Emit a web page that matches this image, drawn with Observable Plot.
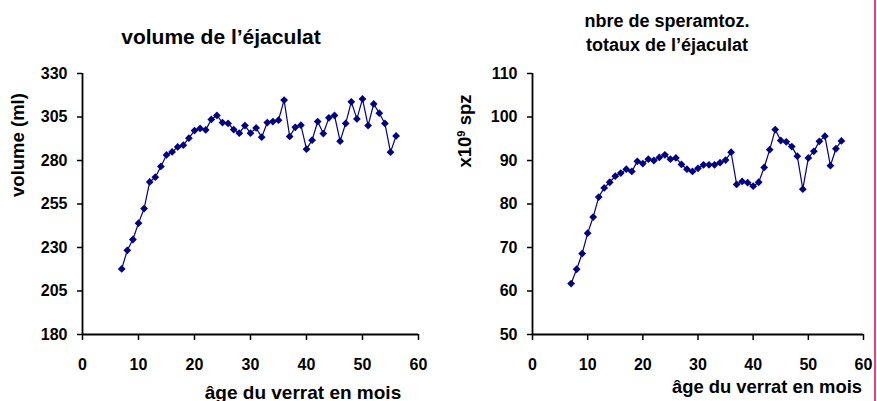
<!DOCTYPE html>
<html>
<head>
<meta charset="utf-8">
<script src="https://cdn.jsdelivr.net/npm/d3@7"></script>
<script src="https://cdn.jsdelivr.net/npm/@observablehq/plot@0.6"></script>
<style>
  html, body { margin: 0; padding: 0; background: #fff; }
  #wrap { position: relative; width: 877px; height: 401px; overflow: hidden; background: #fff;
          font-family: "Liberation Sans", Arial, sans-serif; font-weight: bold; color: #000; }
  #wrap svg text { font-family: "Liberation Sans", Arial, sans-serif; font-weight: bold; font-size: 16px; fill: #000; }
  .lbl { position: absolute; white-space: nowrap; line-height: 1; transform: translate(-50%, -50%); }
  .rot { transform: translate(-50%, -50%) rotate(-90deg); }
  .lbl sup { font-size: 0.6em; vertical-align: 0.55em; line-height: 0; }
  #edge { position: absolute; left: 874px; top: 0; width: 2px; height: 401px; background: #f2436c; }
</style>
</head>
<body>
<div id="wrap"></div>
<script>
// months (x values)
const months = [7,8,9,10,11,12,13,14,15,16,17,18,19,20,21,22,23,24,25,26,27,28,29,30,31,32,33,34,35,36,37,38,39,40,41,42,43,44,45,46,47,48,49,50,51,52,53,54,55,56];
// volume de l'éjaculat (ml)
const volume = [217.7,228.4,234.6,244.0,252.4,267.7,270.4,276.6,283.2,284.9,
                287.8,288.8,292.8,297.2,298.4,297.6,303.6,305.9,301.8,301.3,
                297.8,295.7,300.1,295.7,298.7,293.4,301.8,302.4,303.2,314.7,
                293.8,299.1,300.3,286.5,291.7,302.4,295.5,304.5,305.9,291.1,
                301.3,313.7,303.9,315.4,300.1,312.5,307.2,301.3,284.8,294.1];
// nbre de spermatozoïdes totaux (x10^9)
const spz = [61.7,65.0,68.6,73.3,77.0,81.6,83.7,85.0,86.4,87.1,
             88.0,87.5,89.8,89.3,90.3,90.0,90.7,91.3,90.3,90.6,
             89.1,88.0,87.5,88.2,89.0,89.0,89.0,89.5,90.1,91.9,
             84.5,85.2,84.9,84.1,85.0,88.4,92.5,97.1,94.6,94.3,
             93.2,91.0,83.4,90.6,92.1,94.4,95.6,88.8,92.7,94.5];
const xTicks = [0,10,20,30,40,50,60];
const yTicksVolume = [180,205,230,255,280,305,330];
const yTicksSpz = [50,60,70,80,90,100,110];

const navy = "#000080";
const font = '"Liberation Sans", Arial, sans-serif';

function chart(values, yDomain, yTicks, opts) {
  const data = months.map((m, i) => ({x: m, y: values[i]}));
  return Plot.plot({
    width: opts.width, height: 401,
    marginLeft: opts.ml, marginRight: opts.mr, marginTop: 73, marginBottom: 67,
    x: {domain: [0, 60]},
    y: {domain: yDomain},
    style: {fontFamily: font, fontSize: "16px", fontWeight: "bold", color: "#000", background: "transparent", overflow: "visible"},
    marks: [
      Plot.axisY({ticks: yTicks, tickSize: 5, tickPadding: 10, label: null, strokeWidth: 1.5}),
      Plot.axisX({ticks: xTicks, tickSize: 6, tickPadding: 18, label: null, strokeWidth: 1.5}),
      Plot.ruleX([0], {stroke: "#000", strokeWidth: 1.8}),
      Plot.ruleY([yDomain[0]], {stroke: "#000", strokeWidth: 1.8}),
      Plot.line(data, {x: "x", y: "y", stroke: navy, strokeWidth: 1.2}),
      Plot.dot(data, {x: "x", y: "y", symbol: "diamond2", r: 3.5, fill: navy, stroke: "none"})
    ]
  });
}

const wrap = document.getElementById("wrap");

const left = chart(volume, [180, 330], yTicksVolume, {width: 440, ml: 82, mr: 22});
left.style.position = "absolute"; left.style.left = "0px"; left.style.top = "0px";
wrap.appendChild(left);

const right = chart(spz, [50, 110], yTicksSpz, {width: 437, ml: 92, mr: 14});
right.style.position = "absolute"; right.style.left = "440px"; right.style.top = "0px";
wrap.appendChild(right);

function label(html, x, y, size, rotated) {
  const d = document.createElement("div");
  d.className = "lbl" + (rotated ? " rot" : "");
  d.style.left = x + "px"; d.style.top = y + "px"; d.style.fontSize = size + "px";
  d.innerHTML = html;
  wrap.appendChild(d);
}
label("volume de l’éjaculat", 221, 36, 21);
label("nbre de speramtoz.", 667, 21, 18);
label("totaux de l’éjaculat", 667, 45, 18);
label("âge du verrat en mois", 303, 392, 19);
label("âge du verrat en mois", 767, 387, 18.4);
label("volume (ml)", 18, 145, 18.5, true);
label("x10<sup>9</sup> spz", 465, 131, 18.5, true);

const edge = document.createElement("div");
edge.id = "edge";
wrap.appendChild(edge);
</script>
</body>
</html>
